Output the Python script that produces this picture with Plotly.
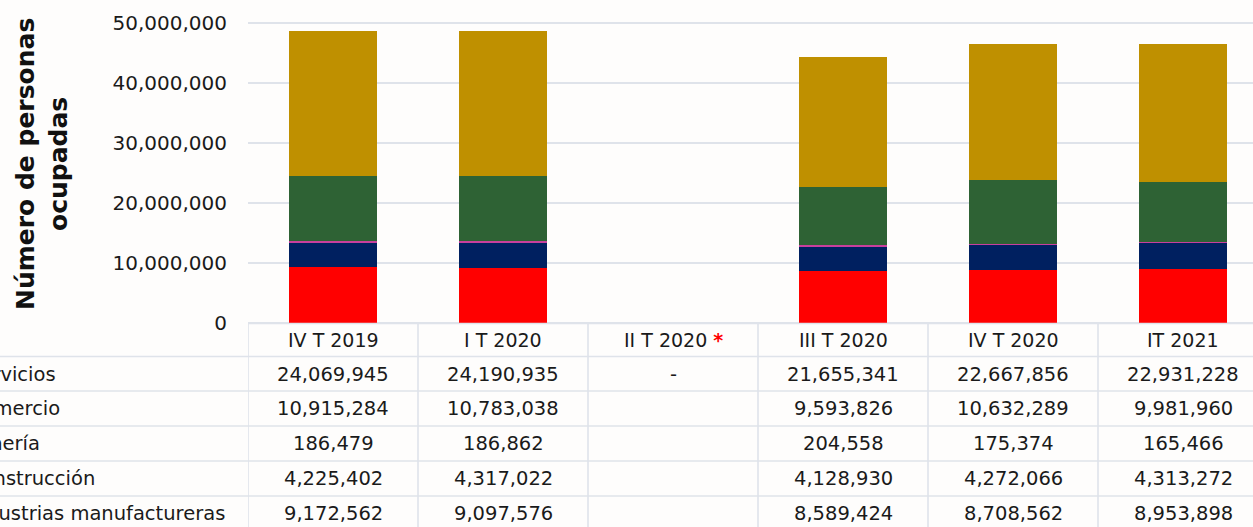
import plotly.graph_objects as go

periods = ["IV T 2019", "I T 2020", "II T 2020", "III T 2020", "IV T 2020", "IT 2021"]
header_labels = ["IV T 2019", "I T 2020", "II T 2020 <b><span style='color:#FF0000'>*</span></b>",
                 "III T 2020", "IV T 2020", "IT 2021"]

servicios = [24069945, 24190935, None, 21655341, 22667856, 22931228]
comercio = [10915284, 10783038, None, 9593826, 10632289, 9981960]
mineria = [186479, 186862, None, 204558, 175374, 165466]
construccion = [4225402, 4317022, None, 4128930, 4272066, 4313272]
manufactureras = [9172562, 9097576, None, 8589424, 8708562, 8953898]

y_ticks = [0, 10000000, 20000000, 30000000, 40000000, 50000000]

# stacking order bottom -> top
stack = [
    ("Industrias manufactureras", manufactureras, "#FF0000"),
    ("Construcción", construccion, "#002060"),
    ("Minería", mineria, "#C8409C"),
    ("Comercio", comercio, "#2E6234"),
    ("Servicios", servicios, "#BF9000"),
]
# table order
table_rows = [
    ("Servicios", servicios, "-"),
    ("Comercio", comercio, ""),
    ("Minería", mineria, ""),
    ("Construcción", construccion, ""),
    ("Industrias manufactureras", manufactureras, ""),
]

W, H = 1253, 527
L = 248
PX_PER_UNIT = 60 / 10000000  # pixels per person
Y0_PX = 322.5


def yv(px):
    return (Y0_PX - px) / PX_PER_UNIT


def xp(px):
    return (px - L) / (W - L)


x_idx = list(range(len(periods)))
fig = go.Figure()
for name, vals, col in stack:
    fig.add_trace(go.Bar(x=x_idx, y=vals, name=name, marker=dict(color=col, line=dict(width=0)),
                         width=0.515, showlegend=False, hoverinfo="skip"))

FONT = "DejaVu Sans"
TXT = "#1a1a1a"
GRID = "#dfe3ea"

ann = []
shapes = []
# table lines
row_lines = [323.5, 356.5, 391, 426, 461, 496, 531]
shapes.append(dict(type="line", xref="x", yref="y", x0=-0.5, x1=6.5, y0=yv(row_lines[0]), y1=yv(row_lines[0]),
                   line=dict(color=GRID, width=1.6)))
for r in row_lines[1:]:
    shapes.append(dict(type="line", xref="paper", yref="y", x0=xp(-5), x1=1.0, y0=yv(r), y1=yv(r),
                       line=dict(color=GRID, width=1.6)))
for i in range(len(periods) + 1):
    shapes.append(dict(type="line", xref="x", yref="y", x0=i - 0.5, x1=i - 0.5, y0=yv(row_lines[0]), y1=yv(540),
                       line=dict(color=GRID, width=1.6)))

# header
for i, h in enumerate(header_labels):
    ann.append(dict(x=i, y=yv(340), xref="x", yref="y", text=h, showarrow=False,
                    font=dict(family=FONT, size=19, color=TXT), xanchor="center", yanchor="middle"))

centers = [374, 408.5, 443.5, 478.5, 513.5]
for (name, vals, blank), cy in zip(table_rows, centers):
    ann.append(dict(x=xp(-34), y=yv(cy), xref="paper", yref="y", text=name, showarrow=False,
                    font=dict(family=FONT, size=19.5, color=TXT), xanchor="left", yanchor="middle"))
    for i, v in enumerate(vals):
        t = f"{v:,}" if v is not None else blank
        if t:
            ann.append(dict(x=i, y=yv(cy), xref="x", yref="y", text=t, showarrow=False,
                            font=dict(family=FONT, size=19.5, color=TXT), xanchor="center", yanchor="middle"))

# y-axis title
ann.append(dict(x=xp(42), y=yv(164), xref="paper", yref="y",
                text="<b>Número de personas<br>ocupadas</b>", showarrow=False, textangle=-90,
                font=dict(family=FONT, size=25, color="#111111"), xanchor="center", yanchor="middle"))

fig.update_layout(
    width=W, height=H,
    margin=dict(l=L, r=0, t=0, b=0, pad=0),
    barmode="stack",
    paper_bgcolor="#FEFDFC", plot_bgcolor="rgba(0,0,0,0)",
    xaxis=dict(range=[-0.5, -0.5 + (W - L) / 170], showticklabels=False, showgrid=False, zeroline=False,
               showline=False, ticks=""),
    yaxis=dict(range=[yv(H), yv(0)], tickvals=y_ticks, ticktext=[f"{v:,}" for v in y_ticks],
               showgrid=True, gridcolor=GRID, gridwidth=1.6, zeroline=False, showline=False, ticks="",
               ticklabelstandoff=20, tickfont=dict(family=FONT, size=20, color="#1a1a1a")),
    annotations=ann, shapes=shapes,
)

fig.write_html("out.html", config={"displayModeBar": False},
               post_script="document.body.style.margin='0';document.body.style.overflow='hidden';")
